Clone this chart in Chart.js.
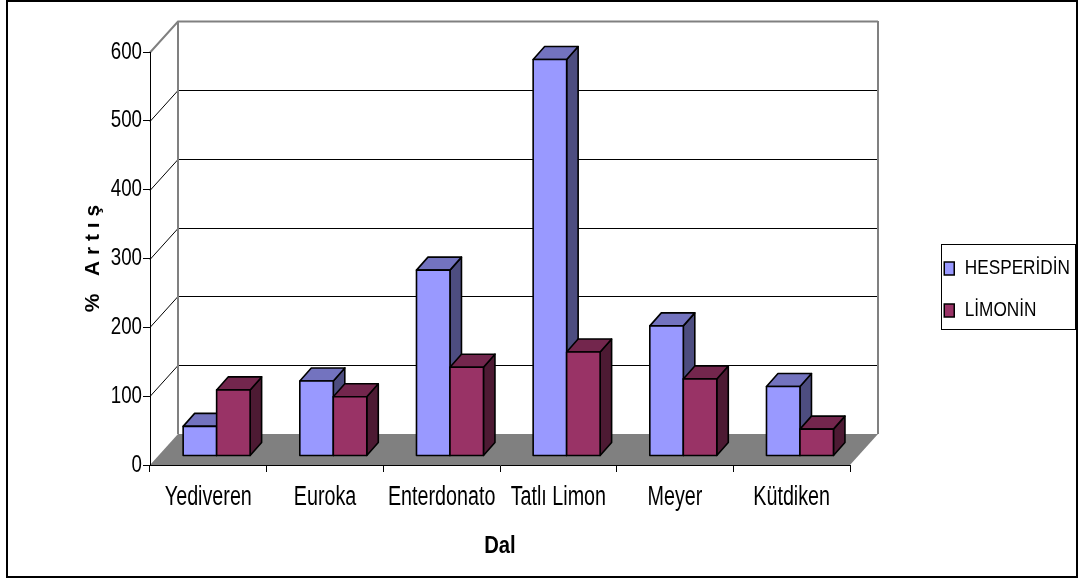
<!DOCTYPE html>
<html><head><meta charset="utf-8">
<script src="https://cdn.jsdelivr.net/npm/chart.js@4.4.1/dist/chart.umd.min.js"></script>
<style>html,body{margin:0;padding:0;background:#fff;}canvas{display:block;}</style>
</head><body>
<canvas id="c" width="1080" height="579"></canvas>
<script>
const categories = ['Yediveren', 'Euroka', 'Enterdonato', 'Tatlı Limon', 'Meyer', 'Kütdiken'];
const hesperidin = [43, 109, 270, 576, 189, 101];
const limonin = [96, 86, 129, 151, 112, 39];
const seriesNames = ['HESPERİDİN', 'LİMONİN'];
const yMin = 0, yMax = 600, yStep = 100;
const xTitle = 'Dal';
const yTitle = '%   A r t ı ş';

const FONT = "'Liberation Sans',Arial,sans-serif";
const WALL = {dx: 28, dy: -31};
const BAR_SHIFT = {dx: 8.3, dy: -9};
const BAR_DEPTH = {dx: 11.5, dy: -13};
const COLORS = [
  {front: '#9999FF', top: '#7373BF', side: '#4D4D80'},
  {front: '#993366', top: '#73264D', side: '#4D1A33'}
];
const PLOT_RIGHT = 850;
const LEG_FONT = 21, LEG_PAD = 21, LEG_BOX = 10;

// condensed text (the original uses horizontally squeezed Arial)
function textScale(font) {
  const m = /(\d+(?:\.\d+)?)px/.exec(font || '');
  const size = m ? parseFloat(m[1]) : 0;
  const bold = /bold|700/.test(font);
  if (!bold && size === 24) return 0.78;   // y tick labels
  if (!bold && size === 27) return 0.73;   // category labels
  if (!bold && size === 21) return 0.82;   // legend
  if (bold && size === 23) return 0.88;    // x title
  return 1;
}
const canvas = document.getElementById('c');
const cctx = canvas.getContext('2d');
const P = CanvasRenderingContext2D.prototype;
cctx.fillText = function (text, x, y, maxWidth) {
  const sx = textScale(this.font);
  if (sx === 1) {
    return maxWidth === undefined ? P.fillText.call(this, text, x, y) : P.fillText.call(this, text, x, y, maxWidth);
  }
  this.save();
  this.translate(x, y);
  this.scale(sx, 1);
  if (maxWidth === undefined) P.fillText.call(this, text, 0, 0);
  else P.fillText.call(this, text, 0, 0, maxWidth / sx);
  this.restore();
};
cctx.measureText = function (text) {
  const m = P.measureText.call(this, text);
  const sx = textScale(this.font);
  return {
    width: m.width * sx,
    actualBoundingBoxLeft: m.actualBoundingBoxLeft * sx,
    actualBoundingBoxRight: m.actualBoundingBoxRight * sx,
    actualBoundingBoxAscent: m.actualBoundingBoxAscent,
    actualBoundingBoxDescent: m.actualBoundingBoxDescent,
    fontBoundingBoxAscent: m.fontBoundingBoxAscent,
    fontBoundingBoxDescent: m.fontBoundingBoxDescent
  };
};

// legend width so the plot area ends at PLOT_RIGHT
cctx.save();
cctx.font = LEG_FONT + 'px ' + FONT;
const maxTextW = Math.max(...seriesNames.map(s => cctx.measureText(s).width));
cctx.restore();
const legendW = LEG_PAD + LEG_BOX + LEG_FONT / 2 + maxTextW + 10;
const RIGHT_GAP = Math.max(0, 1080 - PLOT_RIGHT - legendW);

function box3d(ctx, l, r, t, b, c) {
  const dx = BAR_DEPTH.dx, dy = BAR_DEPTH.dy;
  ctx.lineWidth = 1.6;
  ctx.lineJoin = 'round';
  ctx.strokeStyle = '#000';
  ctx.beginPath();
  ctx.moveTo(r, t); ctx.lineTo(r + dx, t + dy); ctx.lineTo(r + dx, b + dy); ctx.lineTo(r, b); ctx.closePath();
  ctx.fillStyle = c.side; ctx.fill(); ctx.stroke();
  ctx.beginPath();
  ctx.moveTo(l, t); ctx.lineTo(r, t); ctx.lineTo(r + dx, t + dy); ctx.lineTo(l + dx, t + dy); ctx.closePath();
  ctx.fillStyle = c.top; ctx.fill(); ctx.stroke();
  ctx.beginPath();
  ctx.rect(l, t, r - l, b - t);
  ctx.fillStyle = c.front; ctx.fill(); ctx.stroke();
}

const threeD = {
  id: 'threeD',
  beforeDraw(chart) {
    const {ctx, chartArea: a} = chart;
    const y = chart.scales.y;
    ctx.save();
    const y0 = y.getPixelForValue(0);
    ctx.fillStyle = '#808080';
    ctx.beginPath();
    ctx.moveTo(a.left, y0); ctx.lineTo(a.right, y0);
    ctx.lineTo(a.right + WALL.dx, y0 + WALL.dy); ctx.lineTo(a.left + WALL.dx, y0 + WALL.dy);
    ctx.closePath(); ctx.fill();
    y.ticks.forEach(t => {
      if (t.value === y.min) return;
      const py = Math.round(y.getPixelForValue(t.value)) + 0.5;
      const isTop = t.value === y.max;
      ctx.strokeStyle = isTop ? '#808080' : '#000';
      ctx.lineWidth = isTop ? 2 : 1;
      ctx.beginPath();
      ctx.moveTo(a.left, py);
      ctx.lineTo(a.left + WALL.dx, py + WALL.dy);
      ctx.lineTo(a.right + WALL.dx, py + WALL.dy);
      ctx.stroke();
    });
    const yt = y.getPixelForValue(y.max) + WALL.dy, yb = y0 + WALL.dy;
    ctx.strokeStyle = '#808080'; ctx.lineWidth = 2;
    ctx.beginPath();
    ctx.moveTo(a.left + WALL.dx, yt); ctx.lineTo(a.left + WALL.dx, yb);
    ctx.moveTo(a.right + WALL.dx, yt); ctx.lineTo(a.right + WALL.dx, yb);
    ctx.stroke();
    ctx.restore();
  },
  beforeDatasetDraw() { return false; },
  afterDatasetsDraw(chart) {
    const ctx = chart.ctx;
    ctx.save();
    const n = chart.data.labels.length;
    for (let j = 0; j < n; j++) {
      chart.data.datasets.forEach((ds, i) => {
        const el = chart.getDatasetMeta(i).data[j];
        const p = el.getProps(['x', 'y', 'base', 'width'], true);
        const l = p.x - p.width / 2 + BAR_SHIFT.dx;
        const r = p.x + p.width / 2 + BAR_SHIFT.dx;
        const t = p.y + BAR_SHIFT.dy;
        const b = p.base + BAR_SHIFT.dy;
        box3d(ctx, l, r, t, b, COLORS[i]);
      });
    }
    ctx.restore();
  },
  afterDraw(chart) {
    const ctx = chart.ctx;
    ctx.save();
    const lg = chart.legend;
    if (lg && lg.legendHitBoxes && lg.legendHitBoxes.length) {
      const hb = lg.legendHitBoxes;
      const first = hb[0], last = hb[hb.length - 1];
      const left = Math.round(first.left - 3) + 0.5;
      const top = Math.round(first.top - 14) + 0.5;
      const bottom = Math.round(last.top + last.height + 8) + 0.5;
      const right = Math.round(lg.right - 5) + 0.5;
      ctx.strokeStyle = '#000'; ctx.lineWidth = 1;
      ctx.strokeRect(left, top, right - left, bottom - top);
    }
    ctx.strokeStyle = '#000'; ctx.lineWidth = 2;
    ctx.strokeRect(7, 1, 1070, 576);
    ctx.restore();
  }
};

new Chart(canvas, {
  type: 'bar',
  data: {
    labels: categories,
    datasets: [
      {label: seriesNames[0], data: hesperidin, backgroundColor: COLORS[0].front, borderColor: '#000', borderWidth: 1.5, xAxisID: 'x', yAxisID: 'y'},
      {label: seriesNames[1], data: limonin, backgroundColor: COLORS[1].front, borderColor: '#000', borderWidth: 1.5, xAxisID: 'x', yAxisID: 'y'}
    ]
  },
  options: {
    responsive: false,
    animation: false,
    devicePixelRatio: 1,
    layout: {padding: 0},
    categoryPercentage: 0.574,
    barPercentage: 1,
    plugins: {
      tooltip: {enabled: false},
      legend: {
        position: 'right',
        align: 'center',
        labels: {
          boxWidth: LEG_BOX, boxHeight: 13, padding: LEG_PAD, color: '#000',
          font: {family: FONT, size: LEG_FONT}
        }
      }
    },
    scales: {
      x: {
        type: 'category', position: 'bottom', offset: true,
        grid: {offset: true, drawOnChartArea: false, color: '#000', tickLength: 7},
        border: {color: '#000', width: 1},
        ticks: {font: {family: FONT, size: 27}, color: '#000', padding: 9, maxRotation: 0, autoSkip: false},
        title: {display: true, text: xTitle, color: '#000', font: {family: FONT, size: 23, weight: 'bold'}, padding: {top: 0, bottom: 19}},
        afterFit(s) { s.height = 114; }
      },
      xTop: {
        type: 'category', position: 'top', display: true,
        grid: {display: false}, border: {display: false}, ticks: {display: false},
        afterFit(s) { s.height = 52; }
      },
      y: {
        type: 'linear', position: 'left', min: yMin, max: yMax,
        ticks: {stepSize: yStep, font: {family: FONT, size: 24}, color: '#000', padding: 1},
        grid: {drawOnChartArea: false, color: '#000', tickLength: 7},
        border: {color: '#000', width: 1},
        title: {display: true, text: yTitle, color: '#000', font: {family: FONT, size: 21, weight: 'bold'}, padding: {top: 81, bottom: 0}},
        afterFit(s) { s.width = 150; }
      },
      yRight: {
        type: 'linear', position: 'right', display: true,
        grid: {display: false}, border: {display: false}, ticks: {display: false},
        afterFit(s) { s.width = RIGHT_GAP; }
      }
    }
  },
  plugins: [threeD]
});
</script>
</body></html>
